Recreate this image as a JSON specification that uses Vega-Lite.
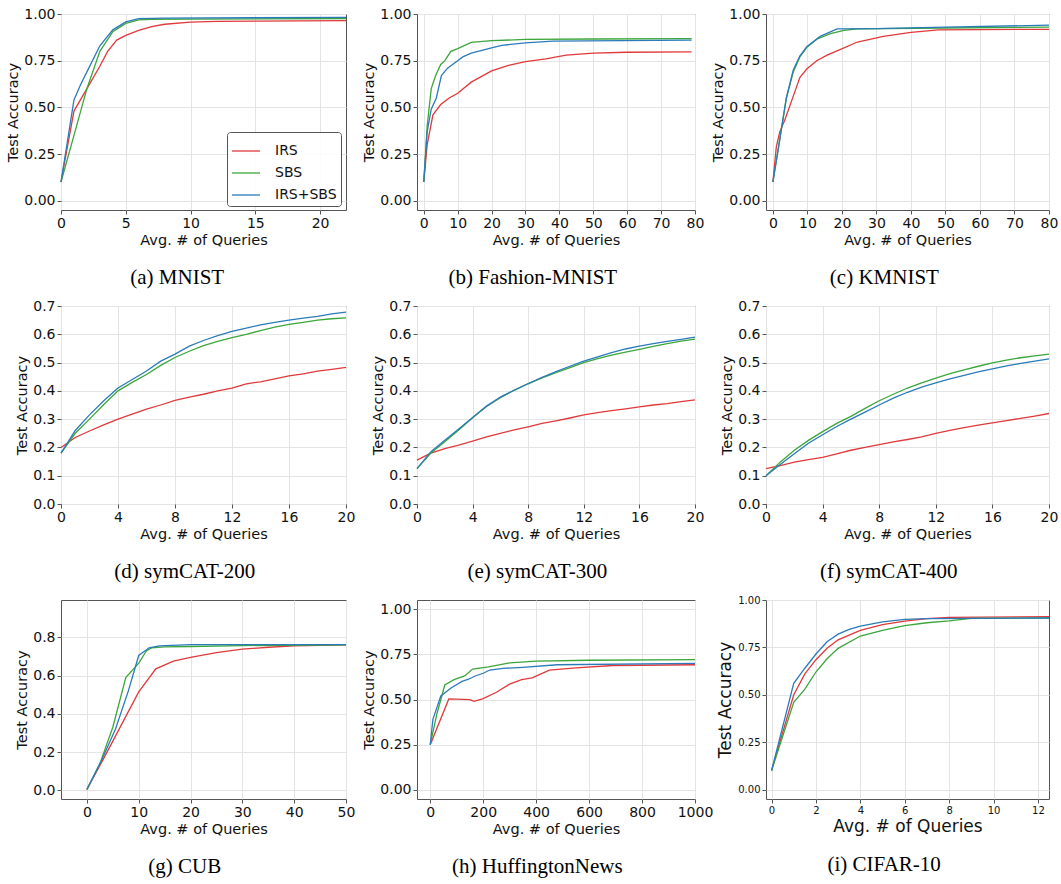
{
  "$schema": "https://vega.github.io/schema/vega-lite/v6.json",
  "background": "white",
  "padding": {"left": 5, "top": 6, "right": 2, "bottom": 2},
  "config": {
    "view": {"stroke": "#555", "strokeWidth": 1},
    "axis": {"labelFont": "DejaVu Sans", "labelFontSize": 14, "labelColor": "#111", "titleFont": "DejaVu Sans", "titleFontSize": 14.5, "titleFontWeight": "normal", "titleColor": "#111", "gridColor": "#e4e4e4", "tickColor": "#555", "tickSize": 4, "domain": false, "labelFlush": false, "labelOverlap": false, "labelPadding": 2, "titlePadding": 3},
    "title": {"font": "Liberation Serif", "fontSize": 21, "fontWeight": "normal", "color": "#000", "orient": "bottom", "anchor": "middle", "frame": "bounds", "offset": 20},
    "line": {"strokeWidth": 1.3, "clip": true}
  },
  "columns": 3,
  "spacing": {"row": 96, "column": 71},
  "bounds": "flush",
  "align": "each",
  "resolve": {"scale": {"color": "independent", "x": "independent", "y": "independent"}, "legend": {"color": "independent"}, "axis": {"x": "independent", "y": "independent"}},
  "datasets": {
    "mnist": [
      {"method": "IRS", "queries": 0, "accuracy": 0.10}, {"method": "IRS", "queries": 1, "accuracy": 0.48}, {"method": "IRS", "queries": 2, "accuracy": 0.60}, {"method": "IRS", "queries": 3, "accuracy": 0.72}, {"method": "IRS", "queries": 3.6, "accuracy": 0.80}, {"method": "IRS", "queries": 4.3, "accuracy": 0.86}, {"method": "IRS", "queries": 5, "accuracy": 0.885}, {"method": "IRS", "queries": 6, "accuracy": 0.912}, {"method": "IRS", "queries": 7, "accuracy": 0.932}, {"method": "IRS", "queries": 8, "accuracy": 0.945}, {"method": "IRS", "queries": 10, "accuracy": 0.957}, {"method": "IRS", "queries": 12, "accuracy": 0.960}, {"method": "IRS", "queries": 15, "accuracy": 0.962}, {"method": "IRS", "queries": 22, "accuracy": 0.964},
      {"method": "SBS", "queries": 0, "accuracy": 0.10}, {"method": "SBS", "queries": 1, "accuracy": 0.35}, {"method": "SBS", "queries": 2, "accuracy": 0.60}, {"method": "SBS", "queries": 3, "accuracy": 0.80}, {"method": "SBS", "queries": 4, "accuracy": 0.905}, {"method": "SBS", "queries": 5, "accuracy": 0.95}, {"method": "SBS", "queries": 6, "accuracy": 0.968}, {"method": "SBS", "queries": 7, "accuracy": 0.972}, {"method": "SBS", "queries": 10, "accuracy": 0.973}, {"method": "SBS", "queries": 22, "accuracy": 0.976},
      {"method": "IRS+SBS", "queries": 0, "accuracy": 0.10}, {"method": "IRS+SBS", "queries": 1, "accuracy": 0.54}, {"method": "IRS+SBS", "queries": 1.5, "accuracy": 0.62}, {"method": "IRS+SBS", "queries": 2, "accuracy": 0.69}, {"method": "IRS+SBS", "queries": 3, "accuracy": 0.83}, {"method": "IRS+SBS", "queries": 4, "accuracy": 0.915}, {"method": "IRS+SBS", "queries": 5, "accuracy": 0.958}, {"method": "IRS+SBS", "queries": 6, "accuracy": 0.975}, {"method": "IRS+SBS", "queries": 8, "accuracy": 0.978}, {"method": "IRS+SBS", "queries": 22, "accuracy": 0.982}
    ],
    "fashion": [
      {"method": "IRS", "queries": 0, "accuracy": 0.10}, {"method": "IRS", "queries": 1, "accuracy": 0.30}, {"method": "IRS", "queries": 2.7, "accuracy": 0.46}, {"method": "IRS", "queries": 5, "accuracy": 0.515}, {"method": "IRS", "queries": 7.5, "accuracy": 0.55}, {"method": "IRS", "queries": 10, "accuracy": 0.575}, {"method": "IRS", "queries": 14, "accuracy": 0.635}, {"method": "IRS", "queries": 20, "accuracy": 0.695}, {"method": "IRS", "queries": 25, "accuracy": 0.725}, {"method": "IRS", "queries": 30, "accuracy": 0.745}, {"method": "IRS", "queries": 36, "accuracy": 0.76}, {"method": "IRS", "queries": 42, "accuracy": 0.78}, {"method": "IRS", "queries": 50, "accuracy": 0.79}, {"method": "IRS", "queries": 60, "accuracy": 0.795}, {"method": "IRS", "queries": 79, "accuracy": 0.797},
      {"method": "SBS", "queries": 0, "accuracy": 0.10}, {"method": "SBS", "queries": 1, "accuracy": 0.40}, {"method": "SBS", "queries": 2.2, "accuracy": 0.60}, {"method": "SBS", "queries": 3.5, "accuracy": 0.67}, {"method": "SBS", "queries": 5, "accuracy": 0.73}, {"method": "SBS", "queries": 6.2, "accuracy": 0.75}, {"method": "SBS", "queries": 8, "accuracy": 0.80}, {"method": "SBS", "queries": 10, "accuracy": 0.815}, {"method": "SBS", "queries": 14, "accuracy": 0.848}, {"method": "SBS", "queries": 20, "accuracy": 0.857}, {"method": "SBS", "queries": 30, "accuracy": 0.864}, {"method": "SBS", "queries": 50, "accuracy": 0.866}, {"method": "SBS", "queries": 79, "accuracy": 0.868},
      {"method": "IRS+SBS", "queries": 0, "accuracy": 0.10}, {"method": "IRS+SBS", "queries": 1, "accuracy": 0.37}, {"method": "IRS+SBS", "queries": 2.2, "accuracy": 0.49}, {"method": "IRS+SBS", "queries": 3.7, "accuracy": 0.55}, {"method": "IRS+SBS", "queries": 5.2, "accuracy": 0.67}, {"method": "IRS+SBS", "queries": 7, "accuracy": 0.71}, {"method": "IRS+SBS", "queries": 10, "accuracy": 0.75}, {"method": "IRS+SBS", "queries": 11.5, "accuracy": 0.77}, {"method": "IRS+SBS", "queries": 14, "accuracy": 0.79}, {"method": "IRS+SBS", "queries": 20, "accuracy": 0.818}, {"method": "IRS+SBS", "queries": 23, "accuracy": 0.832}, {"method": "IRS+SBS", "queries": 30, "accuracy": 0.845}, {"method": "IRS+SBS", "queries": 38, "accuracy": 0.855}, {"method": "IRS+SBS", "queries": 79, "accuracy": 0.86}
    ],
    "kmnist": [
      {"method": "IRS", "queries": 0, "accuracy": 0.10}, {"method": "IRS", "queries": 1, "accuracy": 0.29}, {"method": "IRS", "queries": 2, "accuracy": 0.37}, {"method": "IRS", "queries": 3.4, "accuracy": 0.43}, {"method": "IRS", "queries": 5.9, "accuracy": 0.56}, {"method": "IRS", "queries": 7.8, "accuracy": 0.66}, {"method": "IRS", "queries": 9.8, "accuracy": 0.705}, {"method": "IRS", "queries": 12.7, "accuracy": 0.75}, {"method": "IRS", "queries": 15.7, "accuracy": 0.78}, {"method": "IRS", "queries": 19.6, "accuracy": 0.81}, {"method": "IRS", "queries": 24.5, "accuracy": 0.85}, {"method": "IRS", "queries": 32, "accuracy": 0.88}, {"method": "IRS", "queries": 40, "accuracy": 0.902}, {"method": "IRS", "queries": 48, "accuracy": 0.915}, {"method": "IRS", "queries": 80, "accuracy": 0.918},
      {"method": "SBS", "queries": 0, "accuracy": 0.10}, {"method": "SBS", "queries": 2, "accuracy": 0.33}, {"method": "SBS", "queries": 3.9, "accuracy": 0.55}, {"method": "SBS", "queries": 5.9, "accuracy": 0.69}, {"method": "SBS", "queries": 7.8, "accuracy": 0.77}, {"method": "SBS", "queries": 9.8, "accuracy": 0.82}, {"method": "SBS", "queries": 12.7, "accuracy": 0.865}, {"method": "SBS", "queries": 16.7, "accuracy": 0.895}, {"method": "SBS", "queries": 20.6, "accuracy": 0.912}, {"method": "SBS", "queries": 24.5, "accuracy": 0.92}, {"method": "SBS", "queries": 50, "accuracy": 0.925}, {"method": "SBS", "queries": 80, "accuracy": 0.93},
      {"method": "IRS+SBS", "queries": 0, "accuracy": 0.10}, {"method": "IRS+SBS", "queries": 2, "accuracy": 0.33}, {"method": "IRS+SBS", "queries": 3.9, "accuracy": 0.55}, {"method": "IRS+SBS", "queries": 5.9, "accuracy": 0.70}, {"method": "IRS+SBS", "queries": 7.8, "accuracy": 0.775}, {"method": "IRS+SBS", "queries": 9.8, "accuracy": 0.825}, {"method": "IRS+SBS", "queries": 13.7, "accuracy": 0.88}, {"method": "IRS+SBS", "queries": 18.6, "accuracy": 0.92}, {"method": "IRS+SBS", "queries": 30, "accuracy": 0.922}, {"method": "IRS+SBS", "queries": 50, "accuracy": 0.93}, {"method": "IRS+SBS", "queries": 80, "accuracy": 0.94}
    ],
    "sym200": [
      {"method": "IRS", "queries": 0, "accuracy": 0.20}, {"method": "IRS", "queries": 1, "accuracy": 0.235}, {"method": "IRS", "queries": 2, "accuracy": 0.258}, {"method": "IRS", "queries": 3, "accuracy": 0.28}, {"method": "IRS", "queries": 4, "accuracy": 0.30}, {"method": "IRS", "queries": 5, "accuracy": 0.318}, {"method": "IRS", "queries": 6, "accuracy": 0.335}, {"method": "IRS", "queries": 7, "accuracy": 0.35}, {"method": "IRS", "queries": 8, "accuracy": 0.366}, {"method": "IRS", "queries": 9, "accuracy": 0.378}, {"method": "IRS", "queries": 10, "accuracy": 0.388}, {"method": "IRS", "queries": 11, "accuracy": 0.40}, {"method": "IRS", "queries": 12, "accuracy": 0.41}, {"method": "IRS", "queries": 13, "accuracy": 0.425}, {"method": "IRS", "queries": 14, "accuracy": 0.432}, {"method": "IRS", "queries": 15, "accuracy": 0.442}, {"method": "IRS", "queries": 16, "accuracy": 0.453}, {"method": "IRS", "queries": 17, "accuracy": 0.46}, {"method": "IRS", "queries": 18, "accuracy": 0.47}, {"method": "IRS", "queries": 19, "accuracy": 0.476}, {"method": "IRS", "queries": 20, "accuracy": 0.483},
      {"method": "SBS", "queries": 0, "accuracy": 0.18}, {"method": "SBS", "queries": 1, "accuracy": 0.25}, {"method": "SBS", "queries": 2, "accuracy": 0.30}, {"method": "SBS", "queries": 3, "accuracy": 0.352}, {"method": "SBS", "queries": 4, "accuracy": 0.40}, {"method": "SBS", "queries": 5, "accuracy": 0.43}, {"method": "SBS", "queries": 6, "accuracy": 0.458}, {"method": "SBS", "queries": 7, "accuracy": 0.49}, {"method": "SBS", "queries": 8, "accuracy": 0.518}, {"method": "SBS", "queries": 9, "accuracy": 0.54}, {"method": "SBS", "queries": 10, "accuracy": 0.56}, {"method": "SBS", "queries": 11, "accuracy": 0.575}, {"method": "SBS", "queries": 12, "accuracy": 0.588}, {"method": "SBS", "queries": 13, "accuracy": 0.60}, {"method": "SBS", "queries": 14, "accuracy": 0.613}, {"method": "SBS", "queries": 15, "accuracy": 0.625}, {"method": "SBS", "queries": 16, "accuracy": 0.635}, {"method": "SBS", "queries": 17, "accuracy": 0.642}, {"method": "SBS", "queries": 18, "accuracy": 0.65}, {"method": "SBS", "queries": 19, "accuracy": 0.655}, {"method": "SBS", "queries": 20, "accuracy": 0.658},
      {"method": "IRS+SBS", "queries": 0, "accuracy": 0.18}, {"method": "IRS+SBS", "queries": 1, "accuracy": 0.26}, {"method": "IRS+SBS", "queries": 2, "accuracy": 0.315}, {"method": "IRS+SBS", "queries": 3, "accuracy": 0.365}, {"method": "IRS+SBS", "queries": 4, "accuracy": 0.41}, {"method": "IRS+SBS", "queries": 5, "accuracy": 0.44}, {"method": "IRS+SBS", "queries": 6, "accuracy": 0.47}, {"method": "IRS+SBS", "queries": 7, "accuracy": 0.505}, {"method": "IRS+SBS", "queries": 8, "accuracy": 0.53}, {"method": "IRS+SBS", "queries": 9, "accuracy": 0.558}, {"method": "IRS+SBS", "queries": 10, "accuracy": 0.578}, {"method": "IRS+SBS", "queries": 11, "accuracy": 0.595}, {"method": "IRS+SBS", "queries": 12, "accuracy": 0.61}, {"method": "IRS+SBS", "queries": 13, "accuracy": 0.622}, {"method": "IRS+SBS", "queries": 14, "accuracy": 0.633}, {"method": "IRS+SBS", "queries": 15, "accuracy": 0.642}, {"method": "IRS+SBS", "queries": 16, "accuracy": 0.65}, {"method": "IRS+SBS", "queries": 17, "accuracy": 0.657}, {"method": "IRS+SBS", "queries": 18, "accuracy": 0.663}, {"method": "IRS+SBS", "queries": 19, "accuracy": 0.672}, {"method": "IRS+SBS", "queries": 20, "accuracy": 0.678}
    ],
    "sym300": [
      {"method": "IRS", "queries": 0, "accuracy": 0.155}, {"method": "IRS", "queries": 1, "accuracy": 0.18}, {"method": "IRS", "queries": 2, "accuracy": 0.196}, {"method": "IRS", "queries": 3, "accuracy": 0.208}, {"method": "IRS", "queries": 4, "accuracy": 0.222}, {"method": "IRS", "queries": 5, "accuracy": 0.237}, {"method": "IRS", "queries": 6, "accuracy": 0.25}, {"method": "IRS", "queries": 7, "accuracy": 0.262}, {"method": "IRS", "queries": 8, "accuracy": 0.273}, {"method": "IRS", "queries": 9, "accuracy": 0.285}, {"method": "IRS", "queries": 10, "accuracy": 0.294}, {"method": "IRS", "queries": 11, "accuracy": 0.304}, {"method": "IRS", "queries": 12, "accuracy": 0.315}, {"method": "IRS", "queries": 13, "accuracy": 0.323}, {"method": "IRS", "queries": 14, "accuracy": 0.33}, {"method": "IRS", "queries": 15, "accuracy": 0.336}, {"method": "IRS", "queries": 16, "accuracy": 0.343}, {"method": "IRS", "queries": 17, "accuracy": 0.35}, {"method": "IRS", "queries": 18, "accuracy": 0.355}, {"method": "IRS", "queries": 19, "accuracy": 0.362}, {"method": "IRS", "queries": 20, "accuracy": 0.368},
      {"method": "SBS", "queries": 0, "accuracy": 0.125}, {"method": "SBS", "queries": 1, "accuracy": 0.18}, {"method": "SBS", "queries": 2, "accuracy": 0.22}, {"method": "SBS", "queries": 3, "accuracy": 0.262}, {"method": "SBS", "queries": 4, "accuracy": 0.305}, {"method": "SBS", "queries": 5, "accuracy": 0.345}, {"method": "SBS", "queries": 6, "accuracy": 0.376}, {"method": "SBS", "queries": 7, "accuracy": 0.402}, {"method": "SBS", "queries": 8, "accuracy": 0.425}, {"method": "SBS", "queries": 9, "accuracy": 0.446}, {"method": "SBS", "queries": 10, "accuracy": 0.464}, {"method": "SBS", "queries": 11, "accuracy": 0.482}, {"method": "SBS", "queries": 12, "accuracy": 0.50}, {"method": "SBS", "queries": 13, "accuracy": 0.514}, {"method": "SBS", "queries": 14, "accuracy": 0.526}, {"method": "SBS", "queries": 15, "accuracy": 0.537}, {"method": "SBS", "queries": 16, "accuracy": 0.547}, {"method": "SBS", "queries": 17, "accuracy": 0.557}, {"method": "SBS", "queries": 18, "accuracy": 0.567}, {"method": "SBS", "queries": 19, "accuracy": 0.576}, {"method": "SBS", "queries": 20, "accuracy": 0.583},
      {"method": "IRS+SBS", "queries": 0, "accuracy": 0.125}, {"method": "IRS+SBS", "queries": 1, "accuracy": 0.185}, {"method": "IRS+SBS", "queries": 2, "accuracy": 0.225}, {"method": "IRS+SBS", "queries": 3, "accuracy": 0.265}, {"method": "IRS+SBS", "queries": 4, "accuracy": 0.306}, {"method": "IRS+SBS", "queries": 5, "accuracy": 0.346}, {"method": "IRS+SBS", "queries": 6, "accuracy": 0.378}, {"method": "IRS+SBS", "queries": 7, "accuracy": 0.403}, {"method": "IRS+SBS", "queries": 8, "accuracy": 0.426}, {"method": "IRS+SBS", "queries": 9, "accuracy": 0.448}, {"method": "IRS+SBS", "queries": 10, "accuracy": 0.468}, {"method": "IRS+SBS", "queries": 11, "accuracy": 0.487}, {"method": "IRS+SBS", "queries": 12, "accuracy": 0.505}, {"method": "IRS+SBS", "queries": 13, "accuracy": 0.52}, {"method": "IRS+SBS", "queries": 14, "accuracy": 0.535}, {"method": "IRS+SBS", "queries": 15, "accuracy": 0.548}, {"method": "IRS+SBS", "queries": 16, "accuracy": 0.558}, {"method": "IRS+SBS", "queries": 17, "accuracy": 0.567}, {"method": "IRS+SBS", "queries": 18, "accuracy": 0.575}, {"method": "IRS+SBS", "queries": 19, "accuracy": 0.582}, {"method": "IRS+SBS", "queries": 20, "accuracy": 0.59}
    ],
    "sym400": [
      {"method": "IRS", "queries": 0, "accuracy": 0.125}, {"method": "IRS", "queries": 1, "accuracy": 0.136}, {"method": "IRS", "queries": 2, "accuracy": 0.148}, {"method": "IRS", "queries": 3, "accuracy": 0.157}, {"method": "IRS", "queries": 4, "accuracy": 0.165}, {"method": "IRS", "queries": 5, "accuracy": 0.177}, {"method": "IRS", "queries": 6, "accuracy": 0.19}, {"method": "IRS", "queries": 7, "accuracy": 0.20}, {"method": "IRS", "queries": 8, "accuracy": 0.21}, {"method": "IRS", "queries": 9, "accuracy": 0.22}, {"method": "IRS", "queries": 10, "accuracy": 0.228}, {"method": "IRS", "queries": 11, "accuracy": 0.237}, {"method": "IRS", "queries": 12, "accuracy": 0.25}, {"method": "IRS", "queries": 13, "accuracy": 0.26}, {"method": "IRS", "queries": 14, "accuracy": 0.27}, {"method": "IRS", "queries": 15, "accuracy": 0.279}, {"method": "IRS", "queries": 16, "accuracy": 0.287}, {"method": "IRS", "queries": 17, "accuracy": 0.295}, {"method": "IRS", "queries": 18, "accuracy": 0.303}, {"method": "IRS", "queries": 19, "accuracy": 0.311}, {"method": "IRS", "queries": 20, "accuracy": 0.32},
      {"method": "SBS", "queries": 0, "accuracy": 0.10}, {"method": "SBS", "queries": 1, "accuracy": 0.148}, {"method": "SBS", "queries": 2, "accuracy": 0.19}, {"method": "SBS", "queries": 3, "accuracy": 0.225}, {"method": "SBS", "queries": 4, "accuracy": 0.256}, {"method": "SBS", "queries": 5, "accuracy": 0.285}, {"method": "SBS", "queries": 6, "accuracy": 0.31}, {"method": "SBS", "queries": 7, "accuracy": 0.338}, {"method": "SBS", "queries": 8, "accuracy": 0.365}, {"method": "SBS", "queries": 9, "accuracy": 0.388}, {"method": "SBS", "queries": 10, "accuracy": 0.41}, {"method": "SBS", "queries": 11, "accuracy": 0.428}, {"method": "SBS", "queries": 12, "accuracy": 0.445}, {"method": "SBS", "queries": 13, "accuracy": 0.461}, {"method": "SBS", "queries": 14, "accuracy": 0.474}, {"method": "SBS", "queries": 15, "accuracy": 0.487}, {"method": "SBS", "queries": 16, "accuracy": 0.499}, {"method": "SBS", "queries": 17, "accuracy": 0.509}, {"method": "SBS", "queries": 18, "accuracy": 0.517}, {"method": "SBS", "queries": 19, "accuracy": 0.524}, {"method": "SBS", "queries": 20, "accuracy": 0.53},
      {"method": "IRS+SBS", "queries": 0, "accuracy": 0.10}, {"method": "IRS+SBS", "queries": 1, "accuracy": 0.14}, {"method": "IRS+SBS", "queries": 2, "accuracy": 0.178}, {"method": "IRS+SBS", "queries": 3, "accuracy": 0.215}, {"method": "IRS+SBS", "queries": 4, "accuracy": 0.245}, {"method": "IRS+SBS", "queries": 5, "accuracy": 0.274}, {"method": "IRS+SBS", "queries": 6, "accuracy": 0.30}, {"method": "IRS+SBS", "queries": 7, "accuracy": 0.325}, {"method": "IRS+SBS", "queries": 8, "accuracy": 0.35}, {"method": "IRS+SBS", "queries": 9, "accuracy": 0.374}, {"method": "IRS+SBS", "queries": 10, "accuracy": 0.395}, {"method": "IRS+SBS", "queries": 11, "accuracy": 0.413}, {"method": "IRS+SBS", "queries": 12, "accuracy": 0.428}, {"method": "IRS+SBS", "queries": 13, "accuracy": 0.442}, {"method": "IRS+SBS", "queries": 14, "accuracy": 0.455}, {"method": "IRS+SBS", "queries": 15, "accuracy": 0.467}, {"method": "IRS+SBS", "queries": 16, "accuracy": 0.478}, {"method": "IRS+SBS", "queries": 17, "accuracy": 0.488}, {"method": "IRS+SBS", "queries": 18, "accuracy": 0.497}, {"method": "IRS+SBS", "queries": 19, "accuracy": 0.505}, {"method": "IRS+SBS", "queries": 20, "accuracy": 0.513}
    ],
    "cub": [
      {"method": "IRS", "queries": 0, "accuracy": 0.005}, {"method": "IRS", "queries": 3.3, "accuracy": 0.17}, {"method": "IRS", "queries": 6.7, "accuracy": 0.345}, {"method": "IRS", "queries": 10, "accuracy": 0.515}, {"method": "IRS", "queries": 13.3, "accuracy": 0.635}, {"method": "IRS", "queries": 16.7, "accuracy": 0.675}, {"method": "IRS", "queries": 20, "accuracy": 0.695}, {"method": "IRS", "queries": 25, "accuracy": 0.72}, {"method": "IRS", "queries": 30, "accuracy": 0.738}, {"method": "IRS", "queries": 35, "accuracy": 0.748}, {"method": "IRS", "queries": 40, "accuracy": 0.755}, {"method": "IRS", "queries": 50, "accuracy": 0.76},
      {"method": "SBS", "queries": 0, "accuracy": 0.005}, {"method": "SBS", "queries": 2.5, "accuracy": 0.14}, {"method": "SBS", "queries": 5, "accuracy": 0.33}, {"method": "SBS", "queries": 7.5, "accuracy": 0.59}, {"method": "SBS", "queries": 10, "accuracy": 0.665}, {"method": "SBS", "queries": 11.5, "accuracy": 0.73}, {"method": "SBS", "queries": 12.5, "accuracy": 0.745}, {"method": "SBS", "queries": 15, "accuracy": 0.75}, {"method": "SBS", "queries": 20, "accuracy": 0.752}, {"method": "SBS", "queries": 30, "accuracy": 0.757}, {"method": "SBS", "queries": 50, "accuracy": 0.76},
      {"method": "IRS+SBS", "queries": 0, "accuracy": 0.005}, {"method": "IRS+SBS", "queries": 2.7, "accuracy": 0.15}, {"method": "IRS+SBS", "queries": 5.5, "accuracy": 0.32}, {"method": "IRS+SBS", "queries": 8, "accuracy": 0.52}, {"method": "IRS+SBS", "queries": 10, "accuracy": 0.705}, {"method": "IRS+SBS", "queries": 12, "accuracy": 0.745}, {"method": "IRS+SBS", "queries": 14, "accuracy": 0.755}, {"method": "IRS+SBS", "queries": 20, "accuracy": 0.762}, {"method": "IRS+SBS", "queries": 30, "accuracy": 0.762}, {"method": "IRS+SBS", "queries": 50, "accuracy": 0.762}
    ],
    "huff": [
      {"method": "IRS", "queries": 0, "accuracy": 0.25}, {"method": "IRS", "queries": 70, "accuracy": 0.503}, {"method": "IRS", "queries": 150, "accuracy": 0.499}, {"method": "IRS", "queries": 165, "accuracy": 0.49}, {"method": "IRS", "queries": 200, "accuracy": 0.505}, {"method": "IRS", "queries": 250, "accuracy": 0.54}, {"method": "IRS", "queries": 300, "accuracy": 0.585}, {"method": "IRS", "queries": 345, "accuracy": 0.61}, {"method": "IRS", "queries": 385, "accuracy": 0.62}, {"method": "IRS", "queries": 450, "accuracy": 0.662}, {"method": "IRS", "queries": 550, "accuracy": 0.675}, {"method": "IRS", "queries": 690, "accuracy": 0.688}, {"method": "IRS", "queries": 1000, "accuracy": 0.692},
      {"method": "SBS", "queries": 0, "accuracy": 0.25}, {"method": "SBS", "queries": 25, "accuracy": 0.42}, {"method": "SBS", "queries": 55, "accuracy": 0.58}, {"method": "SBS", "queries": 90, "accuracy": 0.61}, {"method": "SBS", "queries": 130, "accuracy": 0.63}, {"method": "SBS", "queries": 160, "accuracy": 0.668}, {"method": "SBS", "queries": 220, "accuracy": 0.68}, {"method": "SBS", "queries": 300, "accuracy": 0.703}, {"method": "SBS", "queries": 400, "accuracy": 0.712}, {"method": "SBS", "queries": 600, "accuracy": 0.717}, {"method": "SBS", "queries": 1000, "accuracy": 0.72},
      {"method": "IRS+SBS", "queries": 0, "accuracy": 0.25}, {"method": "IRS+SBS", "queries": 10, "accuracy": 0.39}, {"method": "IRS+SBS", "queries": 40, "accuracy": 0.52}, {"method": "IRS+SBS", "queries": 80, "accuracy": 0.565}, {"method": "IRS+SBS", "queries": 120, "accuracy": 0.60}, {"method": "IRS+SBS", "queries": 145, "accuracy": 0.612}, {"method": "IRS+SBS", "queries": 170, "accuracy": 0.63}, {"method": "IRS+SBS", "queries": 200, "accuracy": 0.645}, {"method": "IRS+SBS", "queries": 225, "accuracy": 0.663}, {"method": "IRS+SBS", "queries": 275, "accuracy": 0.672}, {"method": "IRS+SBS", "queries": 350, "accuracy": 0.678}, {"method": "IRS+SBS", "queries": 480, "accuracy": 0.692}, {"method": "IRS+SBS", "queries": 1000, "accuracy": 0.70}
    ],
    "cifar": [
      {"method": "IRS", "queries": 0, "accuracy": 0.10}, {"method": "IRS", "queries": 1, "accuracy": 0.50}, {"method": "IRS", "queries": 1.5, "accuracy": 0.61}, {"method": "IRS", "queries": 2, "accuracy": 0.685}, {"method": "IRS", "queries": 2.5, "accuracy": 0.745}, {"method": "IRS", "queries": 3, "accuracy": 0.79}, {"method": "IRS", "queries": 4, "accuracy": 0.84}, {"method": "IRS", "queries": 5, "accuracy": 0.87}, {"method": "IRS", "queries": 6, "accuracy": 0.888}, {"method": "IRS", "queries": 7, "accuracy": 0.902}, {"method": "IRS", "queries": 8, "accuracy": 0.908}, {"method": "IRS", "queries": 12.5, "accuracy": 0.912},
      {"method": "SBS", "queries": 0, "accuracy": 0.10}, {"method": "SBS", "queries": 1, "accuracy": 0.46}, {"method": "SBS", "queries": 1.5, "accuracy": 0.53}, {"method": "SBS", "queries": 2, "accuracy": 0.62}, {"method": "SBS", "queries": 2.5, "accuracy": 0.69}, {"method": "SBS", "queries": 3, "accuracy": 0.745}, {"method": "SBS", "queries": 4, "accuracy": 0.81}, {"method": "SBS", "queries": 5, "accuracy": 0.84}, {"method": "SBS", "queries": 6, "accuracy": 0.865}, {"method": "SBS", "queries": 7, "accuracy": 0.88}, {"method": "SBS", "queries": 8, "accuracy": 0.89}, {"method": "SBS", "queries": 9, "accuracy": 0.903}, {"method": "SBS", "queries": 12.5, "accuracy": 0.905},
      {"method": "IRS+SBS", "queries": 0, "accuracy": 0.10}, {"method": "IRS+SBS", "queries": 1, "accuracy": 0.56}, {"method": "IRS+SBS", "queries": 1.5, "accuracy": 0.64}, {"method": "IRS+SBS", "queries": 2, "accuracy": 0.715}, {"method": "IRS+SBS", "queries": 2.5, "accuracy": 0.78}, {"method": "IRS+SBS", "queries": 3, "accuracy": 0.82}, {"method": "IRS+SBS", "queries": 3.5, "accuracy": 0.845}, {"method": "IRS+SBS", "queries": 4, "accuracy": 0.862}, {"method": "IRS+SBS", "queries": 5, "accuracy": 0.885}, {"method": "IRS+SBS", "queries": 6, "accuracy": 0.898}, {"method": "IRS+SBS", "queries": 7, "accuracy": 0.902}, {"method": "IRS+SBS", "queries": 12.5, "accuracy": 0.905}
    ]
  },
  "concat": [
    {
      "width": 285, "height": 196,
      "data": {"name": "mnist"},
      "title": "(a) MNIST",
      "mark": {"type": "line"},
      "encoding": {
        "x": {"field": "queries", "type": "quantitative", "scale": {"domain": [0, 22], "nice": false, "zero": false}, "axis": {"values": [0, 5, 10, 15, 20], "format": "d", "title": "Avg. # of Queries"}},
        "y": {"field": "accuracy", "type": "quantitative", "scale": {"domain": [-0.05, 1.0], "nice": false, "zero": false}, "axis": {"values": [0, 0.25, 0.5, 0.75, 1.0], "format": ".2f", "title": "Test Accuracy"}},
        "color": {"field": "method", "type": "nominal", "sort": ["IRS", "SBS", "IRS+SBS"], "scale": {"domain": ["IRS", "SBS", "IRS+SBS"], "range": ["#e0393b", "#3ba63b", "#2b7bba"]},
          "legend": {"orient": "none", "legendX": 166, "legendY": 118, "title": null, "symbolType": "stroke", "symbolSize": 784, "symbolStrokeWidth": 1.3, "labelFont": "DejaVu Sans", "labelFontSize": 14, "labelColor": "#111", "labelOffset": 14, "rowPadding": -1, "padding": 4, "strokeColor": "#555", "fillColor": "rgba(255,255,255,0.85)", "cornerRadius": 3}}
      }
    },
    {
      "width": 278, "height": 196,
      "data": {"name": "fashion"},
      "title": "(b) Fashion-MNIST",
      "mark": {"type": "line"},
      "encoding": {
        "x": {"field": "queries", "type": "quantitative", "scale": {"domain": [-2, 80], "nice": false, "zero": false}, "axis": {"values": [0, 10, 20, 30, 40, 50, 60, 70, 80], "format": "d", "title": "Avg. # of Queries"}},
        "y": {"field": "accuracy", "type": "quantitative", "scale": {"domain": [-0.05, 1.0], "nice": false, "zero": false}, "axis": {"values": [0, 0.25, 0.5, 0.75, 1.0], "format": ".2f", "title": "Test Accuracy"}},
        "color": {"field": "method", "type": "nominal", "sort": ["IRS", "SBS", "IRS+SBS"], "scale": {"domain": ["IRS", "SBS", "IRS+SBS"], "range": ["#e0393b", "#3ba63b", "#2b7bba"]}, "legend": null}
      }
    },
    {
      "width": 283, "height": 196,
      "data": {"name": "kmnist"},
      "title": "(c) KMNIST",
      "mark": {"type": "line"},
      "encoding": {
        "x": {"field": "queries", "type": "quantitative", "scale": {"domain": [-2, 80], "nice": false, "zero": false}, "axis": {"values": [0, 10, 20, 30, 40, 50, 60, 70, 80], "format": "d", "title": "Avg. # of Queries"}},
        "y": {"field": "accuracy", "type": "quantitative", "scale": {"domain": [-0.05, 1.0], "nice": false, "zero": false}, "axis": {"values": [0, 0.25, 0.5, 0.75, 1.0], "format": ".2f", "title": "Test Accuracy"}},
        "color": {"field": "method", "type": "nominal", "sort": ["IRS", "SBS", "IRS+SBS"], "scale": {"domain": ["IRS", "SBS", "IRS+SBS"], "range": ["#e0393b", "#3ba63b", "#2b7bba"]}, "legend": null}
      }
    },
    {
      "width": 285, "height": 198,
      "data": {"name": "sym200"},
      "title": "(d) symCAT-200",
      "mark": {"type": "line"},
      "encoding": {
        "x": {"field": "queries", "type": "quantitative", "scale": {"domain": [0, 20], "nice": false, "zero": false}, "axis": {"values": [0, 4, 8, 12, 16, 20], "format": "d", "title": "Avg. # of Queries"}},
        "y": {"field": "accuracy", "type": "quantitative", "scale": {"domain": [0, 0.7], "nice": false}, "axis": {"values": [0, 0.1, 0.2, 0.3, 0.4, 0.5, 0.6, 0.7], "format": ".1f", "title": "Test Accuracy"}},
        "color": {"field": "method", "type": "nominal", "sort": ["IRS", "SBS", "IRS+SBS"], "scale": {"domain": ["IRS", "SBS", "IRS+SBS"], "range": ["#e0393b", "#3ba63b", "#2b7bba"]}, "legend": null}
      }
    },
    {
      "width": 278, "height": 198,
      "data": {"name": "sym300"},
      "title": "(e) symCAT-300",
      "mark": {"type": "line"},
      "encoding": {
        "x": {"field": "queries", "type": "quantitative", "scale": {"domain": [0, 20], "nice": false, "zero": false}, "axis": {"values": [0, 4, 8, 12, 16, 20], "format": "d", "title": "Avg. # of Queries"}},
        "y": {"field": "accuracy", "type": "quantitative", "scale": {"domain": [0, 0.7], "nice": false}, "axis": {"values": [0, 0.1, 0.2, 0.3, 0.4, 0.5, 0.6, 0.7], "format": ".1f", "title": "Test Accuracy"}},
        "color": {"field": "method", "type": "nominal", "sort": ["IRS", "SBS", "IRS+SBS"], "scale": {"domain": ["IRS", "SBS", "IRS+SBS"], "range": ["#e0393b", "#3ba63b", "#2b7bba"]}, "legend": null}
      }
    },
    {
      "width": 283, "height": 198,
      "data": {"name": "sym400"},
      "title": "(f) symCAT-400",
      "mark": {"type": "line"},
      "encoding": {
        "x": {"field": "queries", "type": "quantitative", "scale": {"domain": [0, 20], "nice": false, "zero": false}, "axis": {"values": [0, 4, 8, 12, 16, 20], "format": "d", "title": "Avg. # of Queries"}},
        "y": {"field": "accuracy", "type": "quantitative", "scale": {"domain": [0, 0.7], "nice": false}, "axis": {"values": [0, 0.1, 0.2, 0.3, 0.4, 0.5, 0.6, 0.7], "format": ".1f", "title": "Test Accuracy"}},
        "color": {"field": "method", "type": "nominal", "sort": ["IRS", "SBS", "IRS+SBS"], "scale": {"domain": ["IRS", "SBS", "IRS+SBS"], "range": ["#e0393b", "#3ba63b", "#2b7bba"]}, "legend": null}
      }
    },
    {
      "width": 285, "height": 199,
      "data": {"name": "cub"},
      "title": "(g) CUB",
      "mark": {"type": "line"},
      "encoding": {
        "x": {"field": "queries", "type": "quantitative", "scale": {"domain": [-5, 50], "nice": false, "zero": false}, "axis": {"values": [0, 10, 20, 30, 40, 50], "format": "d", "title": "Avg. # of Queries"}},
        "y": {"field": "accuracy", "type": "quantitative", "scale": {"domain": [-0.045, 0.995], "nice": false, "zero": false}, "axis": {"values": [0, 0.2, 0.4, 0.6, 0.8], "format": ".1f", "title": "Test Accuracy"}},
        "color": {"field": "method", "type": "nominal", "sort": ["IRS", "SBS", "IRS+SBS"], "scale": {"domain": ["IRS", "SBS", "IRS+SBS"], "range": ["#e0393b", "#3ba63b", "#2b7bba"]}, "legend": null}
      }
    },
    {
      "width": 278, "height": 199,
      "data": {"name": "huff"},
      "title": "(h) HuffingtonNews",
      "mark": {"type": "line"},
      "encoding": {
        "x": {"field": "queries", "type": "quantitative", "scale": {"domain": [-50, 1000], "nice": false, "zero": false}, "axis": {"values": [0, 200, 400, 600, 800, 1000], "format": "d", "title": "Avg. # of Queries"}},
        "y": {"field": "accuracy", "type": "quantitative", "scale": {"domain": [-0.05, 1.05], "nice": false, "zero": false}, "axis": {"values": [0, 0.25, 0.5, 0.75, 1.0], "format": ".2f", "title": "Test Accuracy"}},
        "color": {"field": "method", "type": "nominal", "sort": ["IRS", "SBS", "IRS+SBS"], "scale": {"domain": ["IRS", "SBS", "IRS+SBS"], "range": ["#e0393b", "#3ba63b", "#2b7bba"]}, "legend": null}
      }
    },
    {
      "width": 283, "height": 199,
      "data": {"name": "cifar"},
      "title": "(i) CIFAR-10",
      "mark": {"type": "line"},
      "encoding": {
        "x": {"field": "queries", "type": "quantitative", "scale": {"domain": [-0.25, 12.5], "nice": false, "zero": false}, "axis": {"values": [0, 2, 4, 6, 8, 10, 12], "format": "d", "title": "Avg. # of Queries", "labelFontSize": 10, "titleFontSize": 17}},
        "y": {"field": "accuracy", "type": "quantitative", "scale": {"domain": [-0.05, 1.0], "nice": false, "zero": false}, "axis": {"values": [0, 0.25, 0.5, 0.75, 1.0], "format": ".2f", "title": "Test Accuracy", "labelFontSize": 10, "titleFontSize": 17}},
        "color": {"field": "method", "type": "nominal", "sort": ["IRS", "SBS", "IRS+SBS"], "scale": {"domain": ["IRS", "SBS", "IRS+SBS"], "range": ["#e0393b", "#3ba63b", "#2b7bba"]}, "legend": null}
      }
    }
  ]
}
